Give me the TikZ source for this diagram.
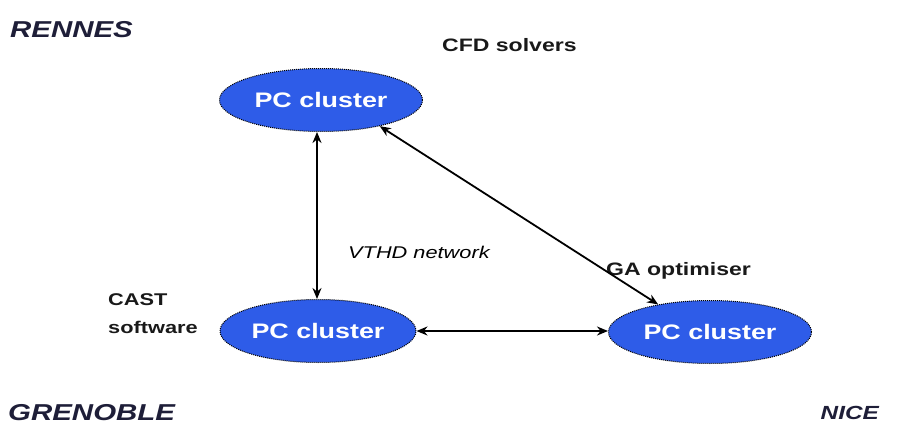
\documentclass[tikz,border=0pt]{standalone}
\usepackage{fontspec}
\setmainfont{Liberation Sans}
\newfontfamily\widesans[FakeStretch=1.28]{Liberation Sans}
\usetikzlibrary{shapes.geometric,arrows.meta}
\definecolor{clblue}{HTML}{2E5CE8}
\definecolor{ink}{HTML}{1E1E38}
\begin{document}
\begin{tikzpicture}[x=1pt,y=-1pt,
  cluster/.style={ellipse, fill=clblue, draw=black, densely dotted, line width=1pt,
    minimum width=203pt, minimum height=63pt, inner sep=0pt, text=white,
    font=\widesans\bfseries\fontsize{21}{24}\selectfont},
  city/.style={text=ink, inner sep=0pt, font=\widesans\bfseries\itshape\fontsize{23}{26}\selectfont},
  note/.style={text=black!90, inner sep=0pt, font=\widesans\bfseries\fontsize{18}{21}\selectfont},
  link/.style={{Stealth[length=11pt,width=9pt]}-{Stealth[length=11pt,width=9pt]}, line width=1.8pt, black}]
\useasboundingbox (0,0) rectangle (900,426);
\node[cluster] (top) at (321,100) {PC cluster};
\node[cluster, minimum width=196pt] (left) at (318,331) {PC cluster};
\node[cluster] (right) at (710,332) {PC cluster};
\node[city, anchor=west] (rennes) at (10,30) {RENNES};
\node[city, anchor=west] (grenoble) at (8,413) {GRENOBLE};
\node[city, anchor=east, font=\widesans\bfseries\itshape\fontsize{19}{22}\selectfont] (nice) at (879,413) {NICE};
\node[note, anchor=west] (cfd) at (442,45) {CFD solvers};
\node[note, anchor=west] (ga) at (606,271) {GA optimiser};
\node[note, anchor=west, align=left, font=\widesans\bfseries\fontsize{17}{28}\selectfont] (cast) at (108,314) {CAST\\software};
\node[inner sep=0pt, anchor=west, font=\widesans\itshape\fontsize{17}{20}\selectfont] (vthd) at (348,252) {VTHD network};
\draw[link] ([xshift=-4pt]top.south) -- ([xshift=-1pt]left.north);
\draw[link] (top.-24) -- (right.152);
\draw[link] (left.east) -- (left.east -| right.west);
\end{tikzpicture}
\end{document}
